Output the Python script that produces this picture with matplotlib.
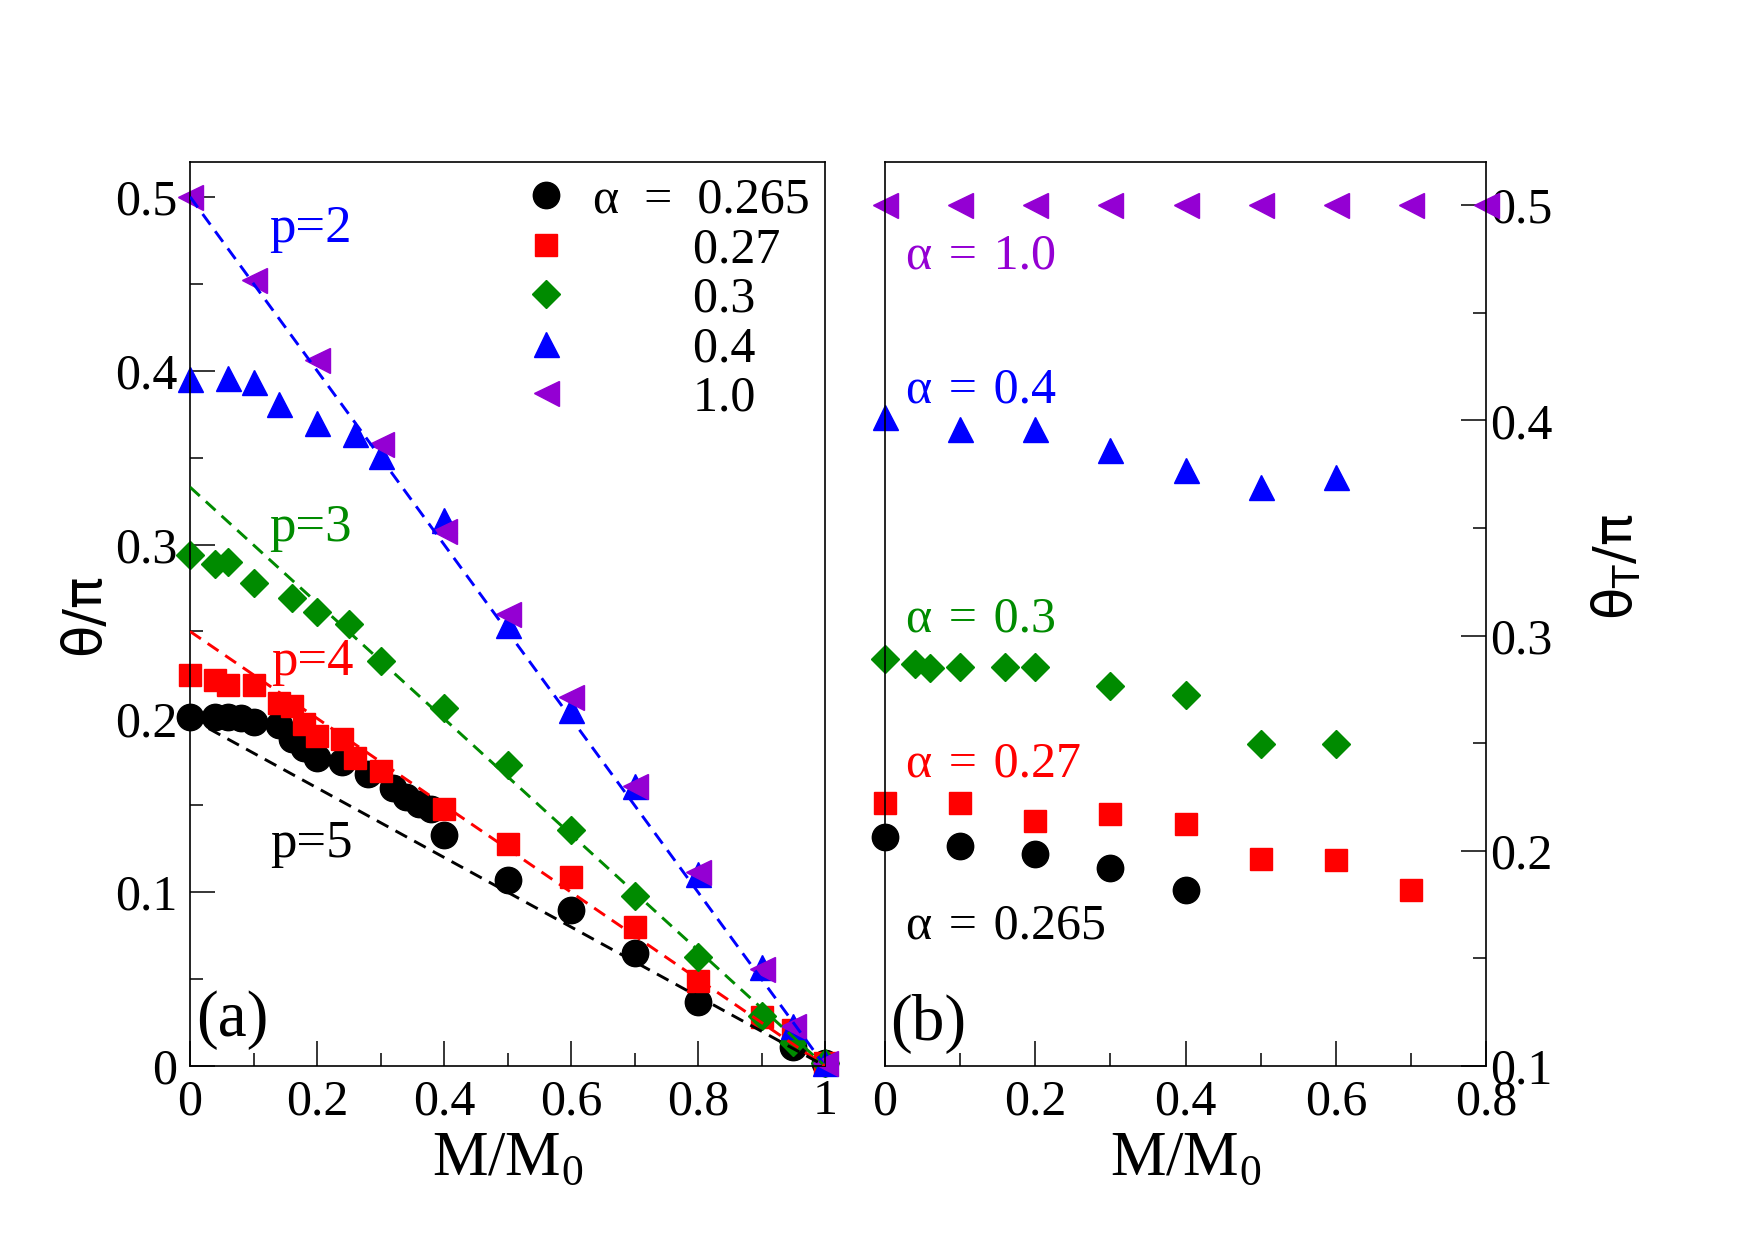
import matplotlib
matplotlib.use('Agg')
import matplotlib.pyplot as plt
from matplotlib.ticker import MultipleLocator, FormatStrFormatter
from matplotlib.textpath import TextToPath
from matplotlib.font_manager import FontProperties

plt.rcParams['font.family'] = ['Liberation Serif', 'DejaVu Sans']

# series styles (alpha = 0.265, 0.27, 0.3, 0.4, 1.0)
alpha_labels = ['0.265', '0.27', '0.3', '0.4', '1.0']
colors = ['black', '#ff0000', '#008b00', '#0000ff', '#9400d3']
markers = ['o', 's', 'D', '^', '<']
msizes = [19, 16.5, 14, 18, 18]

# panel (a): theta/pi vs M/M0
a_M_0265 = [0, 0.04, 0.06, 0.08, 0.1, 0.14, 0.16, 0.18, 0.2, 0.24, 0.28, 0.32, 0.34,
            0.36, 0.38, 0.4, 0.5, 0.6, 0.7, 0.8, 0.95, 1.0]
a_th_0265 = [0.201, 0.201, 0.201, 0.200, 0.198, 0.196, 0.188, 0.183, 0.177, 0.175, 0.168,
             0.160, 0.155, 0.151, 0.148, 0.133, 0.107, 0.090, 0.065, 0.037, 0.011, 0.002]
a_M_027 = [0, 0.04, 0.06, 0.1, 0.14, 0.16, 0.18, 0.2, 0.24, 0.26, 0.3, 0.4, 0.5, 0.6,
           0.7, 0.8, 0.9, 0.95, 1.0]
a_th_027 = [0.225, 0.222, 0.219, 0.219, 0.209, 0.207, 0.197, 0.190, 0.188, 0.177, 0.170,
            0.148, 0.128, 0.109, 0.080, 0.049, 0.028, 0.021, 0.002]
a_M_03 = [0, 0.04, 0.06, 0.1, 0.16, 0.2, 0.25, 0.3, 0.4, 0.5, 0.6, 0.7, 0.8, 0.9, 0.95, 1.0]
a_th_03 = [0.294, 0.289, 0.290, 0.278, 0.269, 0.261, 0.2545, 0.233, 0.206, 0.173, 0.136,
           0.098, 0.063, 0.029, 0.014, 0.002]
a_M_04 = [0, 0.06, 0.1, 0.14, 0.2, 0.26, 0.3, 0.4, 0.5, 0.6, 0.7, 0.8, 0.9, 0.95, 1.0]
a_th_04 = [0.395, 0.3955, 0.3935, 0.381, 0.370, 0.3635, 0.351, 0.314, 0.2535, 0.205,
           0.161, 0.1105, 0.057, 0.023, 0.002]
a_M_10 = [0, 0.1, 0.2, 0.3, 0.4, 0.5, 0.6, 0.7, 0.8, 0.9, 0.95, 1.0]
a_th_10 = [0.5, 0.452, 0.406, 0.358, 0.3075, 0.260, 0.212, 0.161, 0.1115, 0.056, 0.023, 0.002]

# dashed guide lines p = 2..5 (value at M=0 and M=1)
p_labels = ['p=2', 'p=3', 'p=4', 'p=5']
p_colors = ['#0000ff', '#008b00', '#ff0000', 'black']
p_M = [0, 1]
p_th = [[0.5, 0], [0.333, 0], [0.25, 0], [0.2, 0]]
p_text_pos = [(0.124, 0.474), (0.124, 0.302), (0.128, 0.225), (0.126, 0.120)]

# panel (b): theta_T/pi vs M/M0
b_M_0265 = [0, 0.1, 0.2, 0.3, 0.4]
b_th_0265 = [0.2062, 0.2023, 0.1985, 0.192, 0.1816]
b_M_027 = [0, 0.1, 0.2, 0.3, 0.4, 0.5, 0.6, 0.7]
b_th_027 = [0.2221, 0.2221, 0.214, 0.2172, 0.2125, 0.1964, 0.1958, 0.1816]
b_M_03 = [0, 0.04, 0.06, 0.1, 0.16, 0.2, 0.3, 0.4, 0.5, 0.6]
b_th_03 = [0.289, 0.287, 0.285, 0.2856, 0.2856, 0.2856, 0.2766, 0.2724, 0.2497, 0.2497]
b_M_04 = [0, 0.1, 0.2, 0.3, 0.4, 0.5, 0.6]
b_th_04 = [0.4014, 0.3959, 0.3959, 0.3861, 0.3768, 0.369, 0.3737]
b_M_10 = [0, 0.1, 0.2, 0.3, 0.4, 0.5, 0.6, 0.7, 0.8]
b_th_10 = [0.5, 0.5, 0.5, 0.5, 0.5, 0.5, 0.5, 0.5, 0.5]
b_text_pos = [(0.028, 0.1594), (0.028, 0.2345), (0.028, 0.3019), (0.028, 0.4084), (0.028, 0.4706)]

a_series = [(a_M_0265, a_th_0265), (a_M_027, a_th_027), (a_M_03, a_th_03),
            (a_M_04, a_th_04), (a_M_10, a_th_10)]
b_series = [(b_M_0265, b_th_0265), (b_M_027, b_th_027), (b_M_03, b_th_03),
            (b_M_04, b_th_04), (b_M_10, b_th_10)]

fig = plt.figure(figsize=(17.55, 12.4), dpi=100)
ax1 = fig.add_axes([0.1083, 0.1403, 0.3618, 0.729])
ax2 = fig.add_axes([0.5043, 0.1403, 0.3425, 0.729])

tick_fs = 36
for ax in (ax1, ax2):
    for s in ax.spines.values():
        s.set_linewidth(1.2)
    ax.tick_params(which='both', direction='in', width=1.1, labelsize=tick_fs)
    ax.tick_params(which='major', length=18)
    ax.tick_params(which='minor', length=9.5)
    ax.xaxis.set_major_locator(MultipleLocator(0.2))
    ax.xaxis.set_minor_locator(MultipleLocator(0.1))
    ax.yaxis.set_major_locator(MultipleLocator(0.1))
    ax.yaxis.set_minor_locator(MultipleLocator(0.05))
    ax.xaxis.set_major_formatter(FormatStrFormatter('%g'))
    ax.yaxis.set_major_formatter(FormatStrFormatter('%g'))

# ---- panel (a)
handles = []
for (mx, my), c, m, ms in zip(a_series, colors, markers, msizes):
    h, = ax1.plot(mx, my, ls='none', marker=m, ms=ms, color=c, mec=c, mew=1,
                  clip_on=False, zorder=2)
    handles.append(h)
for th, c in zip(p_th, p_colors):
    ax1.plot(p_M, th, ls='--', color=c, lw=2.1, dashes=(4.5, 2.8), zorder=3)
for lab, c, (tx, ty) in zip(p_labels, p_colors, p_text_pos):
    ax1.text(tx, ty, lab, color=c, fontsize=38)
ax1.text(0.010, 0.017, '(a)', fontsize=47)

ax1.set_xlim(0, 1)
ax1.set_ylim(0, 0.52)
ax1.tick_params(which='both', top=False, right=False, pad=9)
ax1.set_xlabel(r'M/M$_\mathregular{0}$', fontsize=45, labelpad=4)
ax1.set_ylabel('θ/π', fontsize=38, family='DejaVu Sans')
ax1.yaxis.set_label_coords(-0.126, 0.5)

# legend: numbers aligned under the first one
leg_pre = 'α\u2002=\u2002'
fp = FontProperties(family='Liberation Serif', size=tick_fs)
t2p = TextToPath()
w_pre = t2p.get_text_width_height_descent(leg_pre + '0', fp, ismath=False)[0] - \
    t2p.get_text_width_height_descent('0', fp, ismath=False)[0]
w_sp = t2p.get_text_width_height_descent('0 0', fp, ismath=False)[0] - \
    t2p.get_text_width_height_descent('00', fp, ismath=False)[0]
n_sp = int(round(w_pre / w_sp))
leg_labels = [leg_pre + alpha_labels[0]] + [' ' * n_sp + a for a in alpha_labels[1:]]
ax1.legend(handles, leg_labels, loc='upper right', frameon=False, fontsize=tick_fs,
           numpoints=1, handlelength=1.0, handletextpad=0.45, labelspacing=0.06,
           borderpad=0.0, borderaxespad=0.3)

# ---- panel (b)
for (mx, my), c, m, ms in zip(b_series, colors, markers, msizes):
    ax2.plot(mx, my, ls='none', marker=m, ms=ms, color=c, mec=c, mew=1,
             clip_on=False, zorder=2)
for a, c, (tx, ty) in zip(alpha_labels, colors, b_text_pos):
    ax2.text(tx, ty, 'α\u2004=\u2004' + a, color=c, fontsize=tick_fs)
ax2.text(0.007, 0.112, '(b)', fontsize=47)

ax2.set_xlim(0, 0.8)
ax2.set_ylim(0.1, 0.52)
ax2.yaxis.tick_right()
ax2.yaxis.set_label_position('right')
ax2.tick_params(which='both', top=False, left=False, right=True)
ax2.tick_params(axis='x', pad=9)
ax2.tick_params(axis='y', pad=3)
ax2.set_xlabel(r'M/M$_\mathregular{0}$', fontsize=45, labelpad=4)
ax2.set_ylabel(r'θ$_\mathregular{T}$/π', fontsize=38, family='DejaVu Sans')
ax2.yaxis.set_label_coords(1.172, 0.552)

fig.savefig('out.png', dpi=100)
